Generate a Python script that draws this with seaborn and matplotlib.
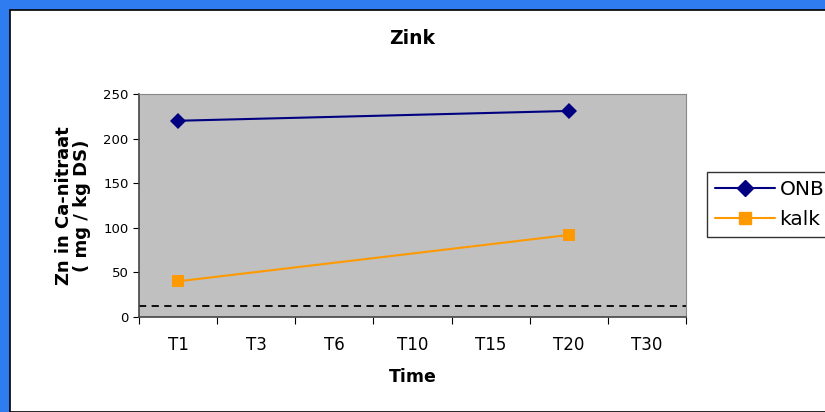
import matplotlib
matplotlib.use("Agg")
import matplotlib.pyplot as plt
from matplotlib.patches import Rectangle
import numpy as np
import pandas as pd
import seaborn as sns

# data
times = ["T1", "T3", "T6", "T10", "T15", "T20", "T30"]
onb = [220, None, None, None, None, 231, None]
kalk = [40, None, None, None, None, 92, None]
limit = 12

sns.set_style("white")
plt.rcParams['font.family'] = ['DejaVu Sans']
plt.rcParams['text.color'] = 'black'
plt.rcParams['axes.labelcolor'] = 'black'
plt.rcParams['xtick.color'] = 'black'
plt.rcParams['ytick.color'] = 'black'

rows = []
for name, vals in [("ONB", onb), ("kalk", kalk)]:
    for i, v in enumerate(vals):
        if v is not None:
            rows.append({"pos": i, "value": v, "serie": name})
df = pd.DataFrame(rows)

fig = plt.figure(figsize=(8.25, 4.12), dpi=100)
fig.patch.set_facecolor("#2f7cf0")
fig.patches.append(Rectangle((10/825, 0), 1, 1 - 10/412, transform=fig.transFigure,
                             facecolor="white", edgecolor="black", lw=1.2, zorder=-1))

ax = fig.add_axes([139/825, 1 - 317/412, 547/825, 223/412])
ax.set_facecolor("#c0c0c0")

sns.lineplot(data=df, x="pos", y="value", hue="serie", style="serie",
             palette={"ONB": "#000080", "kalk": "#ff9900"},
             markers={"ONB": "D", "kalk": "s"}, dashes=False,
             markersize=8, markeredgewidth=0, lw=1.5, ax=ax, legend=False)
ax.axhline(limit, color="black", ls=(0, (4, 3)), lw=1.3)

ax.set_xlim(-0.5, 6.5)
ax.set_ylim(0, 250)
ax.set_yticks(np.arange(0, 251, 50))
ax.set_xticks(np.arange(-0.5, 7, 1), minor=False)
ax.set_xticklabels([])
ax.set_xticks(np.arange(7), minor=True)
ax.set_xticklabels(times, minor=True, fontsize=12)
ax.tick_params(axis="x", which="major", length=5, direction="out", bottom=True, color="black")
ax.tick_params(axis="x", which="minor", length=0, pad=14)
ax.tick_params(axis="y", length=4, direction="out", left=True, labelsize=9.5, color="black")

for s in ["top", "right"]:
    ax.spines[s].set_color("#888888")
for s in ["bottom", "left"]:
    ax.spines[s].set_color("#444444")
    ax.spines[s].set_linewidth(1.2)

ax.set_xlabel("Time", fontsize=12.5, fontweight="bold", labelpad=10)
ax.set_ylabel("Zn in Ca-nitraat\n( mg / kg DS)", fontsize=13, fontweight="bold",
              linespacing=1.0)
ax.yaxis.set_label_coords(-0.088, 0.5)
fig.text(0.5, 1 - 38/412, "Zink", ha="center", va="center", fontsize=13.5, fontweight="bold")

h1, = ax.plot([], [], color="#000080", marker="D", markersize=8, lw=1.5)
h2, = ax.plot([], [], color="#ff9900", marker="s", markersize=8, lw=1.5)
leg = fig.legend([h1, h2], ["ONB", "kalk"], loc="upper left",
                 bbox_to_anchor=(707/825, 1 - 172/412), fontsize=14.5,
                 frameon=True, fancybox=False, edgecolor="black", borderaxespad=0,
                 handlelength=3.0, borderpad=0.4, labelspacing=0.55, handletextpad=0.2)
leg.get_frame().set_linewidth(1)

fig.savefig("out.png", dpi=100)
